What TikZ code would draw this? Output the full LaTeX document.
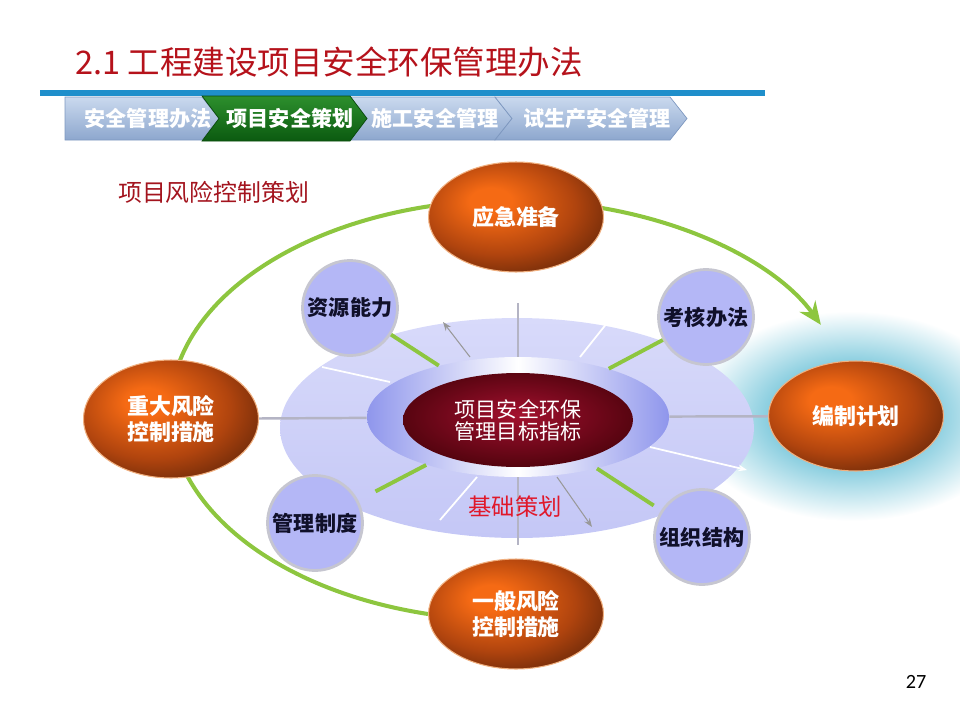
\documentclass[tikz,border=0pt]{standalone}
\usepackage{fontspec}
\setmainfont{Noto Sans CJK SC}
\newfontfamily\numfont{Carlito}
\usetikzlibrary{arrows.meta,positioning,shapes.geometric,calc}
\definecolor{ttlred}{HTML}{B5121B}
\definecolor{bline}{HTML}{1F8FCB}
\definecolor{tabtop}{HTML}{CAD9EE}
\definecolor{tabbot}{HTML}{8DA7CE}
\definecolor{tabedge}{HTML}{7E98C0}
\definecolor{grntop}{HTML}{2D8F2D}
\definecolor{grnbot}{HTML}{0B5A10}
\definecolor{grnedge}{HTML}{0A4A0C}
\definecolor{subred}{HTML}{A3141E}
\definecolor{jcred}{HTML}{E0182A}
\definecolor{arcgrn}{HTML}{8DC63F}
\definecolor{lav}{HTML}{B4B7F6}
\definecolor{lavrim}{HTML}{C6C6D0}
\definecolor{lavtxt}{HTML}{10102A}
\definecolor{bigl}{HTML}{C4C7F6}
\definecolor{bigtop}{HTML}{D8DAFA}
\definecolor{ringc}{HTML}{8F96EC}
\definecolor{coreL}{HTML}{A4122E}
\definecolor{coreM}{HTML}{7E0A20}
\definecolor{coreD}{HTML}{55040F}
\definecolor{orL}{HTML}{F56A14}
\definecolor{orM}{HTML}{B0440E}
\definecolor{orD}{HTML}{5A2208}
\definecolor{orrim}{HTML}{F0B080}
\definecolor{glowc}{HTML}{8CCFE0}
\definecolor{spokegray}{HTML}{B4B4C4}
\pgfdeclareradialshading{glowshade}{\pgfpoint{0bp}{0bp}}{color(0bp)=(glowc); color(13bp)=(glowc); color(25bp)=(white); color(50bp)=(white)}
\pgfdeclareradialshading{coreshade}{\pgfpoint{0bp}{3bp}}{color(0bp)=(coreL); color(12bp)=(coreM); color(26bp)=(coreD); color(50bp)=(coreD)}
\pgfdeclareradialshading{ballshade}{\pgfpoint{-8bp}{8bp}}{color(0bp)=(orL); color(6bp)=(orL); color(22bp)=(orM); color(36bp)=(orD); color(60bp)=(orD)}
\pgfdeclarelayer{back}
\pgfdeclarelayer{bg}
\pgfsetlayers{back,bg,main}

\begin{document}
\begin{tikzpicture}[x=0.02cm, y=-0.02cm,
    ttl/.style={font=\fontsize{18.5}{20}\selectfont, text=ttlred, inner sep=0pt},
    tabbox/.style={draw=tabedge, line width=0.4pt, top color=tabtop, bottom color=tabbot},
    tabon/.style={draw=grnedge, line width=0.4pt, top color=grntop, bottom color=grnbot},
    tabtxt/.style={inner sep=0pt, font=\bfseries\fontsize{12}{14}\selectfont, text=white},
    risk/.style={ellipse, minimum width=3.5cm, minimum height=2.2cm, shade, shading=ballshade, draw=orrim, line width=0.6pt, text=white, font=\bfseries\fontsize{12.5}{15}\selectfont, align=center, inner sep=0pt},
    base/.style={circle, minimum size=1.9cm, fill=lav, draw=lavrim, line width=1.6pt, font=\bfseries\fontsize{12}{14}\selectfont, text=lavtxt, inner sep=0pt},
    gline/.style={line width=2.2pt, draw=arcgrn},
    arcln/.style={line width=2.3pt, draw=arcgrn, -{Stealth[length=13pt, width=11pt]}},
    spoke/.style={line width=1pt, draw=white},
    gspoke/.style={line width=1.4pt, draw=spokegray},
    garr/.style={line width=0.6pt, draw=gray!80, -{Stealth[length=5pt]}}
]
    \useasboundingbox (0,0) rectangle (960,720);

    % Header
    \node[ttl, anchor=west] (title) at (75,62) {2.1 工程建设项目安全环保管理办法};
    \draw[line width=3.4pt, bline] (40,93) -- (765,93);
    \path[tabbox] (65,97) -- (202,97) -- (219,118.5) -- (202,140) -- (65,140) -- cycle;
    \path[tabbox] (350,97) -- (495,97) -- (512,118.5) -- (495,140) -- (350,140) -- (367,118.5) -- cycle;
    \path[tabbox] (495,97) -- (670,97) -- (687,118.5) -- (670,140) -- (495,140) -- (512,118.5) -- cycle;
    \path[tabon] (202,96) -- (350,96) -- (367,118.5) -- (350,141) -- (202,141) -- (219,118.5) -- cycle;
    \node[tabtxt] (t1) at (148,118.5) {安全管理办法};
    \node[tabtxt] (t2) at (290,118.5) {项目安全策划};
    \node[tabtxt] (t3) at (435,118.5) {施工安全管理};
    \node[tabtxt] (t4) at (597,118.5) {试生产安全管理};
    \node[font=\fontsize{13.6}{15}\selectfont, text=subred, anchor=west] (fx) at (112,192) {项目风险控制策划};

    % Glow
    \begin{pgfonlayer}{back}
    \node[ellipse, minimum width=6.6cm, minimum height=4.2cm, shade, shading=glowshade, inner sep=0pt] (glow) at (852,416) {};
    \end{pgfonlayer}

    % Base planning disc
    \node[ellipse, minimum width=9.48cm, minimum height=4.4cm, top color=bigtop, bottom color=bigl, inner sep=0pt] (bigel) at (517,428) {};
    \draw[spoke] (322,367) -- (390,382);
    \draw[spoke] (580,357) -- (607,323);
    \draw[spoke] (440,520) -- (477,477);
    \draw[gspoke] (518,303) -- (518,545);
    \draw[garr] (470,357) -- (443,322);
    \draw[garr] (557,477) -- (592,527);
    \draw[spoke, -{Stealth[length=5pt]}] (650,447) -- (747,470);
    \node[ellipse, minimum width=6.04cm, minimum height=2.4cm, left color=ringc, right color=ringc, middle color=white, inner sep=0pt] (ring) at (518,417) {};
    \node[ellipse, minimum width=4.6cm, minimum height=1.88cm, shade, shading=coreshade, text=white, align=center, font=\fontsize{12}{12.5}\selectfont, inner sep=0pt] (core) at (518,420) {项目安全环保\\管理目标指标};
    \node[font=\fontsize{13.3}{15}\selectfont, text=jcred] (jc) at (515,507) {基础策划};

    % Circles
    \node[base] (zy) at (350,308) {资源能力};
    \node[base] (kh) at (706,317) {考核办法};
    \node[base] (gl) at (315,523) {管理制度};
    \node[base] (zz) at (702,537) {组织结构};

    % Risk nodes
    \node[risk] (yj) at (516,217) {应急准备};
    \node[risk, minimum height=2.36cm] (zd) at (171,419) {重大风险\\控制措施};
    \node[risk] (yb) at (516,614) {一般风险\\控制措施};
    \node[risk] (bz) at (856,416) {编制计划};

    % Connectors
    \draw[gline] (zy) -- (ring);
    \draw[gline] (kh) -- (ring);
    \draw[gline, shorten <=11pt] (gl) -- (ring);
    \draw[gline, shorten <=5pt] (zz) -- (ring);
    \draw[gspoke] (zd) -- (ring);
    \draw[gspoke] (ring) -- (bz);
    \begin{pgfonlayer}{bg}
    \draw[arcln] (yb.west) arc[start angle=104, end angle=336, x radius=340, y radius=210];
    \end{pgfonlayer}

    \node[font=\numfont\fontsize{11.5}{13}\selectfont] (pg) at (916,682) {27};
\end{tikzpicture}
\end{document}
